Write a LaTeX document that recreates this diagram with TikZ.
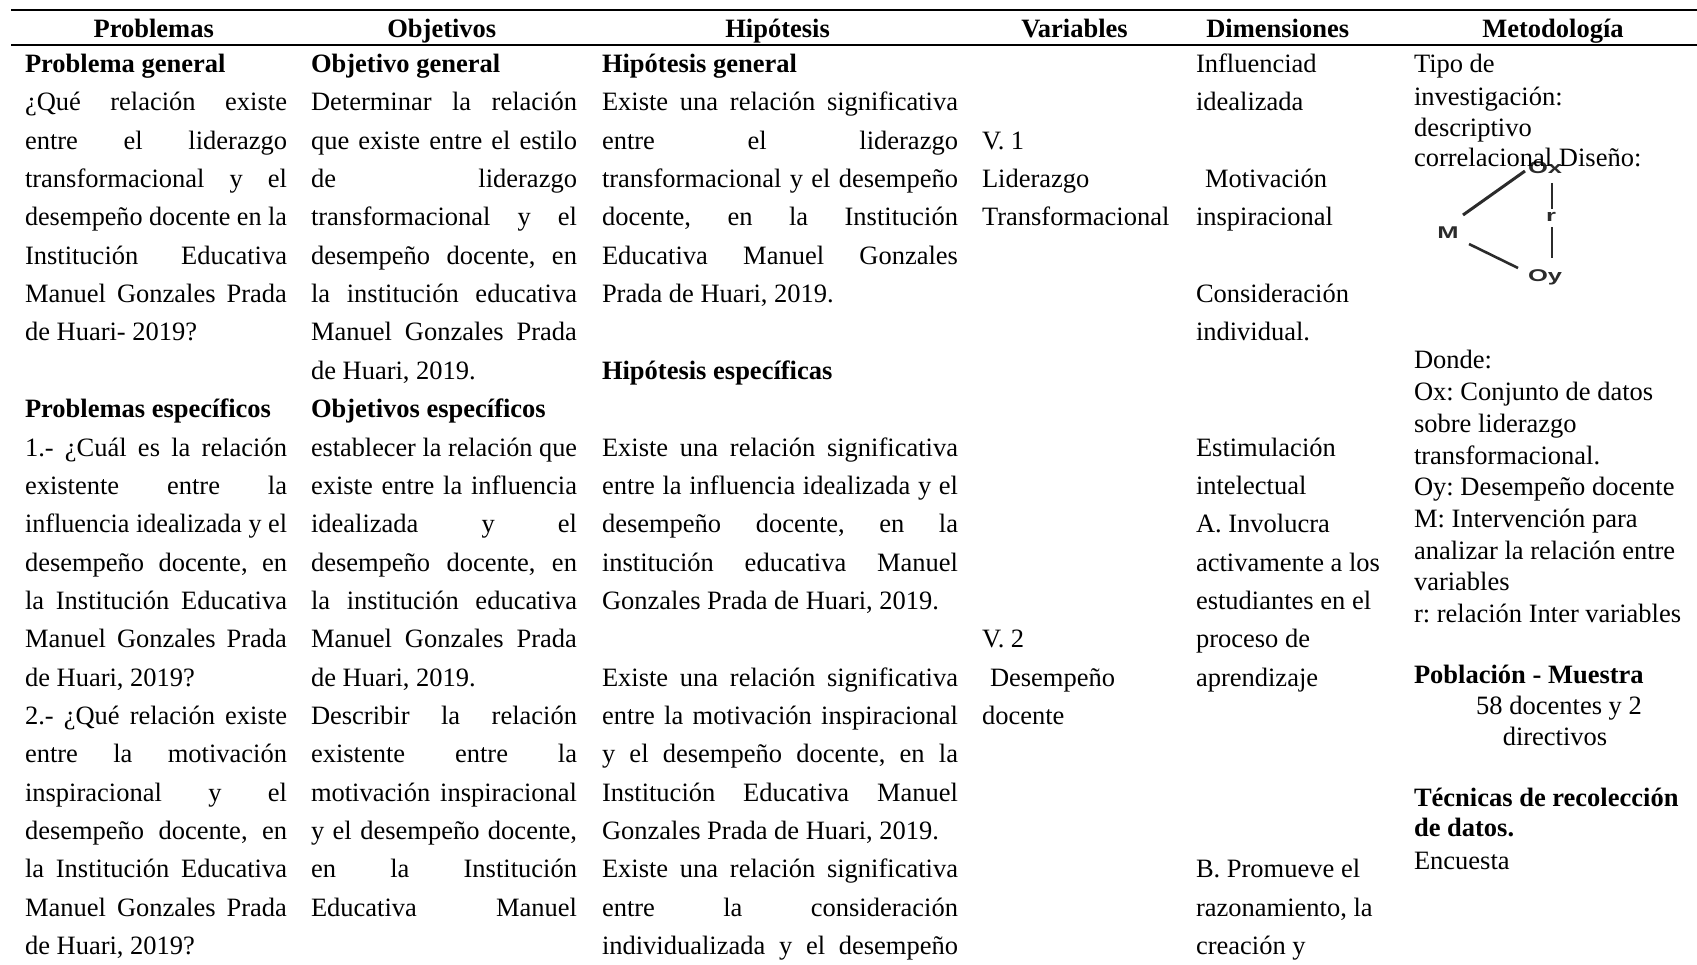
\documentclass[tikz,border=0pt]{standalone}
\usepackage{fontspec}
\usepackage{graphicx}
\setmainfont{Liberation Serif}
\newfontfamily\dsans{Liberation Sans}
\frenchspacing
\newcommand\mainsz{\fontsize{26.5}{30}\selectfont}
\newlength\jlw
\newcommand\jl[2]{\settowidth{\jlw}{#2}\ifdim\jlw>#1\relax\resizebox{#1}{\height}{#2}\else\makebox[#1][s]{#2}\fi}
\newcommand\dl[1]{\scalebox{1.5}[1]{#1}}
\def\ry#1{72.5+38.35*#1}
\def\dy#1{369+31.7*#1}
\definecolor{diag}{HTML}{2B2B2B}
\tikzset{
  txt/.style={anchor=base west, inner sep=0pt, outer sep=0pt, font=\mainsz\frenchspacing},
  btxt/.style={txt, font=\mainsz\bfseries},
  ctxt/.style={anchor=base, inner sep=0pt, outer sep=0pt, font=\mainsz},
  hdr/.style={anchor=base, inner sep=0pt, outer sep=0pt, font=\mainsz\bfseries},
  rule/.style={line width=2pt},
  dlab/.style={inner sep=0pt, font=\dsans\bfseries\fontsize{17}{17}\selectfont, text=diag},
  dline/.style={draw=diag, line width=3pt},
  rline/.style={draw=diag, line width=1.5pt}
}
\newcommand\PJ[3]{\node[txt] (#1) at (25,\ry{#2}) {\jl{262pt}{#3}};}
\newcommand\PL[3]{\node[txt] (#1) at (25,\ry{#2}) {#3};}
\newcommand\OJ[3]{\node[txt] (#1) at (311,\ry{#2}) {\jl{266pt}{#3}};}
\newcommand\OL[3]{\node[txt] (#1) at (311,\ry{#2}) {#3};}
\newcommand\HJ[3]{\node[txt] (#1) at (602,\ry{#2}) {\jl{356pt}{#3}};}
\newcommand\HL[3]{\node[txt] (#1) at (602,\ry{#2}) {#3};}
\begin{document}
\begin{tikzpicture}[x=1pt,y=-1pt]
\useasboundingbox (0,0) rectangle (1697,965);
% rules
\coordinate (r1a) at (11,10); \coordinate (r1b) at (1697,10);
\coordinate (r2a) at (11,45); \coordinate (r2b) at (1697,45);
\draw[rule] (r1a) -- (r1b);
\draw[rule] (r2a) -- (r2b);
% headers
\node[hdr] (hP) at (153.7,37.5) {Problemas};
\node[hdr] (hO) at (441.8,37.5) {Objetivos};
\node[hdr] (hH) at (777.6,37.5) {Hipótesis};
\node[hdr] (hV) at (1074.5,37.5) {Variables};
\node[hdr] (hD) at (1277.7,37.5) {Dimensiones};
\node[hdr] (hM) at (1553,37.5) {Metodología};
% diagram
\node[dlab] (M) at (1448,233) {\dl{M}};
\node[dlab] (Ox) at (1545,168) {\dl{Ox}};
\node[dlab] (Oy) at (1545,277) {\dl{Oy}};
\node[dlab] (r) at (1551,217) {\dl{r}};
\draw[dline] ([shift={(15,-18)}]M.center) -- ([shift={(-20,3)}]Ox.center);
\draw[dline, line width=2.6pt] ([shift={(21,11)}]M.center) -- ([shift={(-27,-9)}]Oy.center);
\draw[rline] ([shift={(7,15)}]Ox.center) -- ([shift={(1,-8)}]r.center);
\draw[rline] ([shift={(1,10)}]r.center) -- ([shift={(7,-19)}]Oy.center);
% Problemas
\node[btxt] (p0) at (25,\ry{0}) {Problema general};
\PJ{p1}{1}{¿Qué relación existe}
\PJ{p2}{2}{entre el liderazgo}
\PJ{p3}{3}{transformacional y el}
\PJ{p4}{4}{desempeño docente en la}
\PJ{p5}{5}{Institución Educativa}
\PJ{p6}{6}{Manuel Gonzales Prada}
\PL{p7}{7}{de Huari- 2019?}
\node[btxt] (p9) at (25,\ry{9}) {Problemas específicos};
\PJ{p10}{10}{1.- ¿Cuál es la relación}
\PJ{p11}{11}{existente entre la}
\PJ{p12}{12}{influencia idealizada y el}
\PJ{p13}{13}{desempeño docente, en}
\PJ{p14}{14}{la Institución Educativa}
\PJ{p15}{15}{Manuel Gonzales Prada}
\PL{p16}{16}{de Huari, 2019?}
\PJ{p17}{17}{2.- ¿Qué relación existe}
\PJ{p18}{18}{entre la motivación}
\PJ{p19}{19}{inspiracional y el}
\PJ{p20}{20}{desempeño docente, en}
\PJ{p21}{21}{la Institución Educativa}
\PJ{p22}{22}{Manuel Gonzales Prada}
\PL{p23}{23}{de Huari, 2019?}
% Objetivos
\node[btxt] (o0) at (311,\ry{0}) {Objetivo general};
\OJ{o1}{1}{Determinar la relación}
\OJ{o2}{2}{que existe entre el estilo}
\OJ{o3}{3}{de liderazgo}
\OJ{o4}{4}{transformacional y el}
\OJ{o5}{5}{desempeño docente, en}
\OJ{o6}{6}{la institución educativa}
\OJ{o7}{7}{Manuel Gonzales Prada}
\OL{o8}{8}{de Huari, 2019.}
\node[btxt] (o9) at (311,\ry{9}) {Objetivos específicos};
\OJ{o10}{10}{establecer la relación que}
\OJ{o11}{11}{existe entre la influencia}
\OJ{o12}{12}{idealizada y el}
\OJ{o13}{13}{desempeño docente, en}
\OJ{o14}{14}{la institución educativa}
\OJ{o15}{15}{Manuel Gonzales Prada}
\OL{o16}{16}{de Huari, 2019.}
\OJ{o17}{17}{Describir la relación}
\OJ{o18}{18}{existente entre la}
\OJ{o19}{19}{motivación inspiracional}
\OJ{o20}{20}{y el desempeño docente,}
\OJ{o21}{21}{en la Institución}
\OJ{o22}{22}{Educativa Manuel}
% Hipotesis
\node[btxt] (h0) at (602,\ry{0}) {Hipótesis general};
\HJ{h1}{1}{Existe una relación significativa}
\HJ{h2}{2}{entre el liderazgo}
\HJ{h3}{3}{transformacional y el desempeño}
\HJ{h4}{4}{docente, en la Institución}
\HJ{h5}{5}{Educativa Manuel Gonzales}
\HL{h6}{6}{Prada de Huari, 2019.}
\node[btxt] (h8) at (602,\ry{8}) {Hipótesis específicas};
\HJ{h10}{10}{Existe una relación significativa}
\HJ{h11}{11}{entre la influencia idealizada y el}
\HJ{h12}{12}{desempeño docente, en la}
\HJ{h13}{13}{institución educativa Manuel}
\HL{h14}{14}{Gonzales Prada de Huari, 2019.}
\HJ{h16}{16}{Existe una relación significativa}
\HJ{h17}{17}{entre la motivación inspiracional}
\HJ{h18}{18}{y el desempeño docente, en la}
\HJ{h19}{19}{Institución Educativa Manuel}
\HL{h20}{20}{Gonzales Prada de Huari, 2019.}
\HJ{h21}{21}{Existe una relación significativa}
\HJ{h22}{22}{entre la consideración}
\HJ{h23}{23}{individualizada y el desempeño}
% Variables
\node[txt] (v2) at (982,\ry{2}) {V. 1};
\node[txt] (v3) at (982,\ry{3}) {Liderazgo};
\node[txt] (v4) at (982,\ry{4}) {Transformacional};
\node[txt] (v15) at (982,\ry{15}) {V. 2};
\node[txt] (v16) at (990,\ry{16}) {Desempeño};
\node[txt] (v17) at (982,\ry{17}) {docente};
% Dimensiones
\node[txt] (d0) at (1196,\ry{0}) {Influenciad};
\node[txt] (d1) at (1196,\ry{1}) {idealizada};
\node[txt] (d3) at (1205,\ry{3}) {Motivación};
\node[txt] (d4) at (1196,\ry{4}) {inspiracional};
\node[txt] (d6) at (1196,\ry{6}) {Consideración};
\node[txt] (d7) at (1196,\ry{7}) {individual.};
\node[txt] (d10) at (1196,\ry{10}) {Estimulación};
\node[txt] (d11) at (1196,\ry{11}) {intelectual};
\node[txt] (d12) at (1196,\ry{12}) {A. Involucra};
\node[txt] (d13) at (1196,\ry{13}) {activamente a los};
\node[txt] (d14) at (1196,\ry{14}) {estudiantes en el};
\node[txt] (d15) at (1196,\ry{15}) {proceso de};
\node[txt] (d16) at (1196,\ry{16}) {aprendizaje};
\node[txt] (d21) at (1196,\ry{21}) {B. Promueve el};
\node[txt] (d22) at (1196,\ry{22}) {razonamiento, la};
\node[txt] (d23) at (1196,\ry{23}) {creación y};
% Metodologia
\node[txt] (m1) at (1414,72.5) {Tipo de};
\node[txt] (m2) at (1414,106) {investigación:};
\node[txt] (m3) at (1414,137) {descriptivo};
\node[txt] (m4) at (1414,167) {correlacional Diseño:};
\node[txt] (m5) at (1414,\dy{0}) {Donde:};
\node[txt] (m6) at (1414,\dy{1}) {Ox: Conjunto de datos};
\node[txt] (m7) at (1414,\dy{2}) {sobre liderazgo};
\node[txt] (m8) at (1414,\dy{3}) {transformacional.};
\node[txt] (m9) at (1414,\dy{4}) {Oy: Desempeño docente};
\node[txt] (m10) at (1414,\dy{5}) {M: Intervención para};
\node[txt] (m11) at (1414,\dy{6}) {analizar la relación entre};
\node[txt] (m12) at (1414,\dy{7}) {variables};
\node[txt] (m13) at (1414,\dy{8}) {r: relación Inter variables};
\node[btxt] (m14) at (1414,683) {Población - Muestra};
\node[ctxt] (m15) at (1559,714) {58 docentes y 2};
\node[ctxt] (m16) at (1555,745) {directivos};
\node[btxt] (m17) at (1414,806) {Técnicas de recolección};
\node[btxt] (m18) at (1414,836) {de datos.};
\node[txt] (m19) at (1414,869) {Encuesta};
\end{tikzpicture}
\end{document}
